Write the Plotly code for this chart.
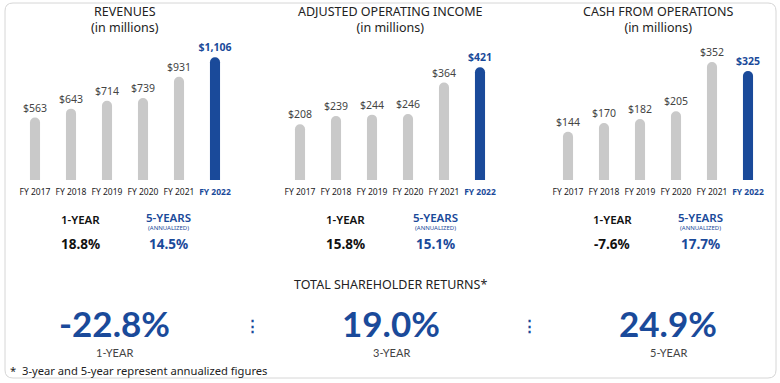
import plotly.graph_objects as go

# ---------------- data ----------------
categories = ["FY 2017", "FY 2018", "FY 2019", "FY 2020", "FY 2021", "FY 2022"]
revenues = [563, 643, 714, 739, 931, 1106]
adj_operating_income = [208, 239, 244, 246, 364, 421]
cash_from_operations = [144, 170, 182, 205, 352, 325]

panel_titles = ["REVENUES", "ADJUSTED OPERATING INCOME", "CASH FROM OPERATIONS"]
one_year_growth = ["18.8%", "15.8%", "-7.6%"]
five_year_growth = ["14.5%", "15.1%", "17.7%"]

tsr_title = "TOTAL SHAREHOLDER RETURNS*"
tsr_periods = ["1-YEAR", "3-YEAR", "5-YEAR"]
tsr_values = ["-22.8%", "19.0%", "24.9%"]
footnote = "*  3-year and 5-year represent annualized figures"

# ---------------- style ----------------
W, H = 780, 383
BLUE = "#1a4a9a"
GRAY_BAR = "#c9c9c9"
TXT = "#222222"
LBL = "#444444"
FONT = "Noto Sans"


def px(x):
    return x / W


def py(y):
    return 1 - y / H


series = [revenues, adj_operating_income, cash_from_operations]
x_spans = [(17, 233), (282, 498), (550, 766)]
y_tops = [1622, 672, 537]
baseline_px = 180

fig = go.Figure()

for i, vals in enumerate(series):
    ax = "" if i == 0 else str(i + 1)
    colors = [GRAY_BAR] * (len(vals) - 1) + [BLUE]
    tcolors = [LBL] * (len(vals) - 1) + [BLUE]
    texts = [f"${v:,}" for v in vals[:-1]] + [f"<b>${vals[-1]:,}</b>"]
    fig.add_trace(go.Bar(
        x=categories, y=vals, marker=dict(color=colors, line=dict(width=0)),
        text=texts, textposition="outside", cliponaxis=False, constraintext="none",
        textfont=dict(color=tcolors, size=10.5, family=FONT),
        xaxis="x" + ax, yaxis="y" + ax, showlegend=False, hoverinfo="skip",
    ))
    ticktext = categories[:-1] + [f"<b><span style='color:{BLUE}'>{categories[-1]}</span></b>"]
    x0, x1 = x_spans[i]
    fig.update_layout(**{
        "xaxis" + ax: dict(domain=[px(x0), px(x1)], anchor="y" + ax,
                           tickmode="array", tickvals=categories, ticktext=ticktext,
                           tickfont=dict(size=8.5, color=TXT, family=FONT),
                           ticklabelstandoff=5,
                           showgrid=False, zeroline=False, showline=False, ticks=""),
        "yaxis" + ax: dict(domain=[py(baseline_px), 1], anchor="x" + ax,
                           range=[0, y_tops[i]], visible=False, showgrid=False),
    })

annotations = []


def ann(text, x, y, size, color=TXT, weight=None, xanchor="center", family=FONT):
    f = dict(size=size, color=color, family=family)
    if weight:
        f["weight"] = weight
    annotations.append(dict(text=text, x=px(x), y=py(y), xref="paper", yref="paper",
                            showarrow=False, xanchor=xanchor, yanchor="middle", font=f))


title_x = [125, 390, 658]
for i, t in enumerate(panel_titles):
    ann(f"{t}<br>(in millions)", title_x[i], 19.5, 12.5, TXT)

one_x = [80, 345, 612]
five_x = [168, 435, 700]
for i in range(3):
    ann("1-YEAR", one_x[i], 219, 11.5, "#111111", 600)
    ann(one_year_growth[i], one_x[i], 244, 13.5, "#111111", 700)
    ann("5-YEARS", five_x[i], 218, 11.5, BLUE, 600)
    ann("(ANNUALIZED)", five_x[i], 228, 6, BLUE)
    ann(five_year_growth[i], five_x[i], 244, 13.5, BLUE, 700)

ann(tsr_title, 390, 284, 12.5, TXT)
tsr_x = [114, 391, 668]
for i in range(3):
    ann(tsr_values[i], tsr_x[i], 323, 35, BLUE, 700, family="Lato")
    ann(tsr_periods[i], tsr_x[i], 352, 11, "#444444", family="Lato")
for dx in (252.5, 529.5):
    ann("<b>⋮</b>", dx, 325, 15, BLUE)
ann(footnote, 8, 370, 11.2, TXT, xanchor="left")

# rounded outer border
l, r, t, b, rad = px(5), px(776), py(3), py(378), 8
rx, ry = rad / W, rad / H
path = (f"M {l+rx},{t} L {r-rx},{t} Q {r},{t} {r},{t-ry} L {r},{b+ry} Q {r},{b} {r-rx},{b} "
        f"L {l+rx},{b} Q {l},{b} {l},{b+ry} L {l},{t-ry} Q {l},{t} {l+rx},{t} Z")

fig.update_layout(
    width=W, height=H, margin=dict(l=0, r=0, t=0, b=0),
    paper_bgcolor="white", plot_bgcolor="white",
    bargap=0.72, barcornerradius="50%",
    annotations=annotations,
    shapes=[dict(type="path", path=path, xref="paper", yref="paper",
                 line=dict(color="#d6d6d6", width=1), layer="below")],
    font=dict(family=FONT),
)

fig.write_html("out.html", config={"displayModeBar": False})

# remove the default page margin so the figure sits at the window's corner
with open("out.html", encoding="utf-8") as fh:
    html = fh.read()
html = html.replace("<body>", "<body style=\"margin:0;overflow:hidden\">", 1)
with open("out.html", "w", encoding="utf-8") as fh:
    fh.write(html)
